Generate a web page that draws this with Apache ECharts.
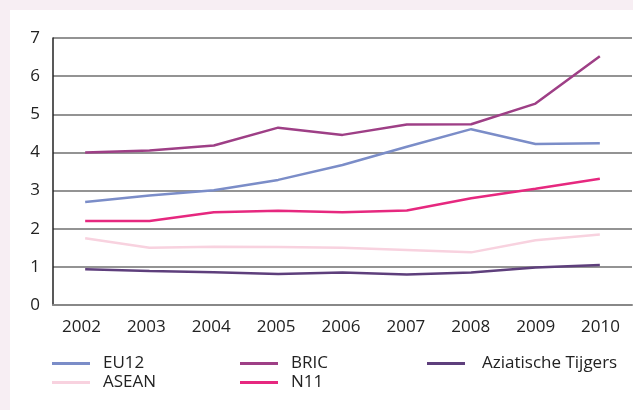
<!DOCTYPE html>
<html>
<head>
<meta charset="utf-8">
<script src="https://cdn.jsdelivr.net/npm/echarts@6/dist/echarts.min.js"></script>
<style>
html,body{margin:0;padding:0;background:#f7eef3;}
#c{width:633px;height:410px;}
</style>
</head>
<body>
<div id="c"></div>
<script>
var years = ['2002','2003','2004','2005','2006','2007','2008','2009','2010'];
var yTicks = [0,1,2,3,4,5,6,7];
var eu12 = [2.70, 2.87, 3.01, 3.28, 3.67, 4.15, 4.61, 4.22, 4.24];
var bric = [4.00, 4.05, 4.18, 4.65, 4.46, 4.73, 4.74, 5.28, 6.52];
var tigers = [0.94, 0.89, 0.86, 0.81, 0.85, 0.80, 0.85, 0.98, 1.05];
var asean = [1.75, 1.50, 1.53, 1.52, 1.50, 1.44, 1.38, 1.70, 1.85];
var n11 = [2.20, 2.20, 2.43, 2.47, 2.43, 2.48, 2.80, 3.05, 3.31];

var names = ['EU12','BRIC','Aziatische Tijgers','ASEAN','N11'];
var colors = ['#7b8dc8','#9e3f86','#5e3f7c','#f8d2df','#e6287f'];
var datas = [eu12, bric, tigers, asean, n11];
var legendPos = [[52,355],[240,355],[427,355],[52,374],[240,374]];
var legendGap = [8,8,12,8,8];

var font = '"Open Sans", "Noto Sans", sans-serif';
var chart = echarts.init(document.getElementById('c'), null, {renderer:'canvas'});

var series = names.map(function(n,i){
  return {name:n, type:'line', data:datas[i], symbol:'none', smooth:false,
    xAxisIndex:0, yAxisIndex:0,
    lineStyle:{color:colors[i], width:2.5}, itemStyle:{color:colors[i]}, z: (i===3?4:5)};
});
var legends = names.map(function(n,i){
  return {data:[n], left:legendPos[i][0], top:legendPos[i][1], icon:'rect', itemWidth:38, itemHeight:3,
    itemGap:0, padding:0, textStyle:{fontFamily:font, fontSize:17, color:'#222222', padding:[0,0,0,legendGap[i]]}, selectedMode:false};
});

chart.setOption({
  backgroundColor:'#f7eef3',
  animation:false,
  graphic:[{type:'rect', left:10, top:10, shape:{width:623, height:400}, style:{fill:'#ffffff'}, z:-10}],
  grid:[{left:53, right:1, top:38, bottom:105},
        {left:49, right:-7, top:38, bottom:105}],
  legend: legends,
  xAxis:[{type:'category', data:years, boundaryGap:true, gridIndex:0,
    axisLine:{lineStyle:{color:'#888888', width:2}},
    axisTick:{inside:true, length:10, lineStyle:{color:'#777777', width:1.5}},
    axisLabel:{show:false},
    splitLine:{show:false}},
    {type:'category', data:years, boundaryGap:true, gridIndex:1,
    axisLine:{show:false}, axisTick:{show:false},
    axisLabel:{fontFamily:font, fontSize:17, color:'#222222', margin:14},
    splitLine:{show:false}}],
  yAxis:[{type:'value', min:0, max:7, interval:1, gridIndex:0,
    axisLine:{show:true, lineStyle:{color:'#222222', width:1.5}},
    axisTick:{show:false},
    axisLabel:{fontFamily:font, fontSize:17, color:'#222222', margin:13, padding:[5,0,0,0],
      formatter:function(v){return yTicks.indexOf(v)>=0 ? String(v) : '';}},
    splitLine:{lineStyle:{color:'#6f6f6f', width:1.5}}},
    {type:'value', min:0, max:7, interval:1, gridIndex:1, show:false}],
  series: series
});
</script>
</body>
</html>
